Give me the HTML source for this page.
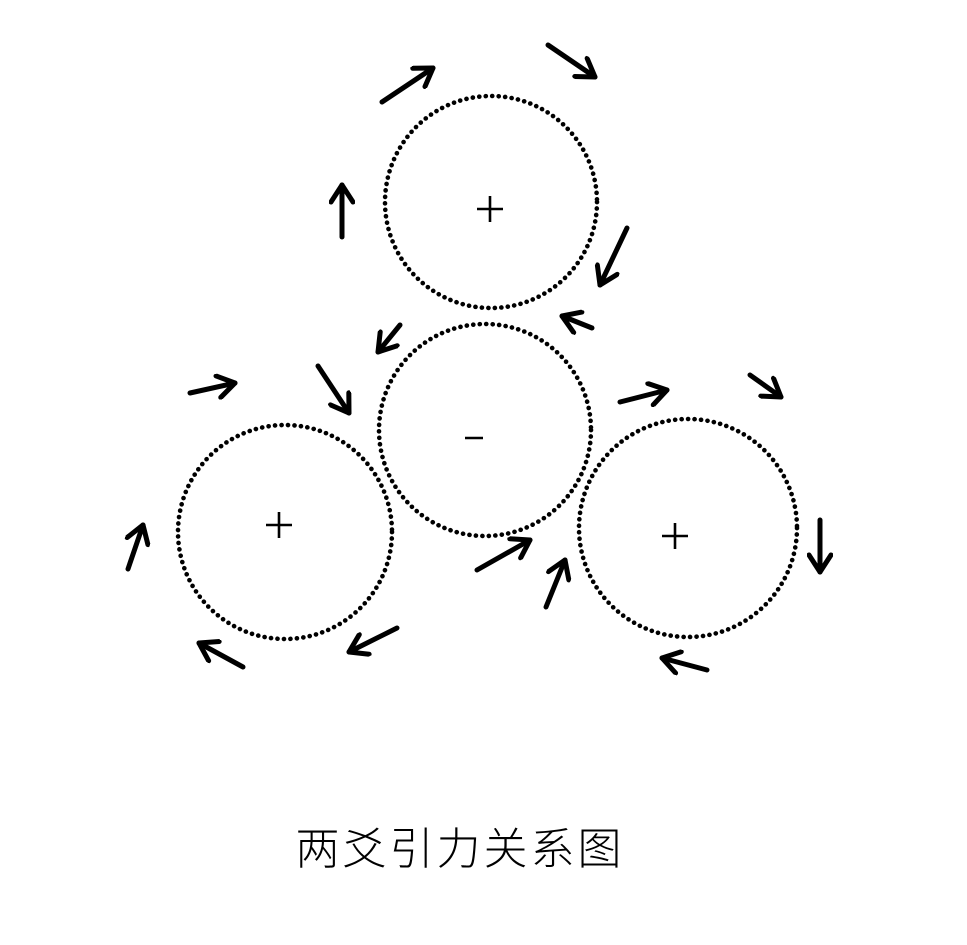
<!DOCTYPE html>
<html><head><meta charset="utf-8"><style>
html,body{margin:0;padding:0;background:#fff;}
svg{display:block;}
</style></head><body>
<svg width="967" height="945" viewBox="0 0 967 945" xmlns="http://www.w3.org/2000/svg">
<g fill="none" stroke="#000" stroke-width="4.6" stroke-dasharray="0.1 6.4" stroke-linecap="round">
<circle cx="491" cy="202" r="106"/>
<circle cx="485" cy="430" r="106"/>
<circle cx="285" cy="532" r="107"/>
<circle cx="688" cy="528" r="109"/>
</g>
<g stroke="#000" stroke-width="2.6">
<line x1="477" y1="209" x2="503" y2="209"/><line x1="490" y1="196" x2="490" y2="222"/>
<line x1="266" y1="525" x2="292" y2="525"/><line x1="279" y1="512" x2="279" y2="538"/>
<line x1="662" y1="536" x2="688" y2="536"/><line x1="675" y1="523" x2="675" y2="549"/>
<line x1="465" y1="438" x2="483" y2="438"/>
</g>
<defs>
<marker id="a" viewBox="0 0 26 26" refX="22" refY="13" markerWidth="26" markerHeight="26" markerUnits="userSpaceOnUse" orient="auto">
<path d="M5 2 L22 13 L5 24" fill="none" stroke="#000" stroke-width="5" stroke-linecap="round" stroke-linejoin="round"/>
</marker>
</defs>
<g stroke="#000" stroke-width="5" stroke-linecap="round" marker-end="url(#a)">
<line x1="382" y1="102" x2="433" y2="68"/>
<line x1="548" y1="45" x2="595" y2="77"/>
<line x1="342" y1="237" x2="342" y2="185"/>
<line x1="627" y1="228" x2="600" y2="285"/>
<line x1="592" y1="328" x2="562" y2="316"/>
<line x1="400" y1="325" x2="378" y2="352"/>
<line x1="318" y1="366" x2="349" y2="413"/>
<line x1="190" y1="393" x2="235" y2="383"/>
<line x1="620" y1="402" x2="667" y2="390"/>
<line x1="750" y1="375" x2="781" y2="397"/>
<line x1="128" y1="569" x2="143" y2="525"/>
<line x1="477" y1="570" x2="530" y2="540"/>
<line x1="546" y1="607" x2="565" y2="560"/>
<line x1="820" y1="520" x2="820" y2="572"/>
<line x1="397" y1="628" x2="349" y2="652"/>
<line x1="243" y1="667" x2="199" y2="643"/>
<line x1="707" y1="670" x2="662" y2="658"/>
</g>
<text x="460" y="864" text-anchor="middle" font-family="'Liberation Sans','Noto Sans CJK SC',sans-serif" font-weight="300" font-size="44" letter-spacing="3" fill="#000">两爻引力关系图</text>
</svg>
</body></html>
